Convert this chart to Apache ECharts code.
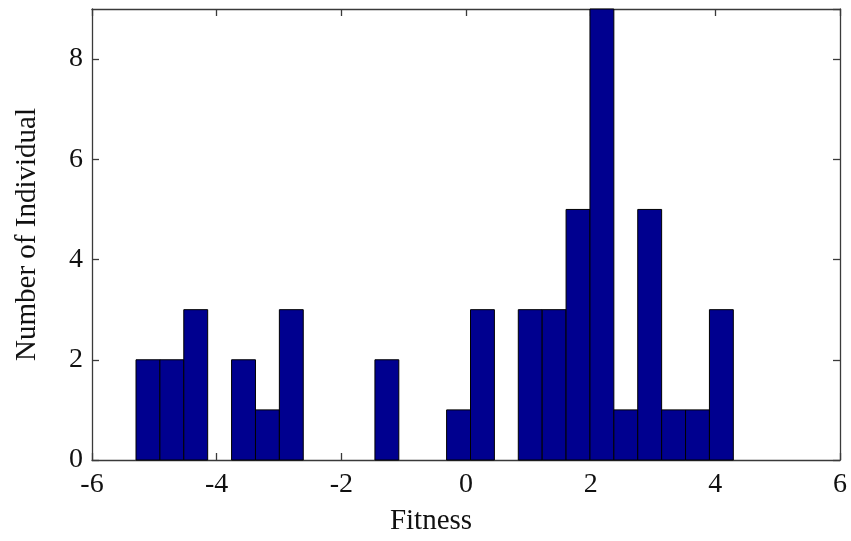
<!DOCTYPE html>
<html>
<head>
<meta charset="utf-8">
<script src="https://cdn.jsdelivr.net/npm/echarts@6/dist/echarts.min.js"></script>
<style>
  html, body { margin: 0; padding: 0; background: #fff; }
  #chart { width: 851px; height: 541px; }
</style>
</head>
<body>
<div id="chart"></div>
<script>
// histogram of fitness values, 25 bins
var binStart = -5.294;
var binWidth = 0.3833;
var counts = [2, 2, 3, 0, 2, 1, 3, 0, 0, 0, 2, 0, 0, 1, 3, 0, 3, 3, 5, 9, 1, 5, 1, 1, 3];
var xTicks = [-6, 6, 2];
var yTicks = [0, 9, 2];

var bins = counts.map(function (c, i) {
  return [binStart + i * binWidth, binStart + (i + 1) * binWidth, c];
});

var font = 'Liberation Serif';
var axisColor = '#3a3a3a';

var myChart = echarts.init(document.getElementById('chart'));

function axisBase(show) {
  return {
    axisLine: { show: true, onZero: false, lineStyle: { color: axisColor, width: 1.3 } },
    axisTick: { show: true, inside: true, length: 7, lineStyle: { color: axisColor, width: 1.3 } },
    splitLine: { show: false },
    axisLabel: { show: show, color: '#111', fontFamily: font, fontSize: 28 }
  };
}

var option = {
  animation: false,
  backgroundColor: '#fff',
  grid: { left: 92, right: 11, top: 9, bottom: 79 },
  xAxis: [
    Object.assign(axisBase(true), {
      type: 'value', min: xTicks[0], max: xTicks[1], interval: xTicks[2],
      position: 'bottom',
      name: 'Fitness', nameLocation: 'middle', nameGap: 47,
      nameTextStyle: { fontFamily: font, fontSize: 29, color: '#111', padding: [0, 70, 0, 0] }
    }),
    Object.assign(axisBase(false), {
      type: 'value', min: xTicks[0], max: xTicks[1], interval: xTicks[2],
      position: 'top'
    })
  ],
  yAxis: [
    Object.assign(axisBase(true), {
      type: 'value', min: yTicks[0], max: yTicks[1], interval: yTicks[2],
      position: 'left',
      name: 'Number of Individual', nameLocation: 'middle', nameGap: 50,
      nameTextStyle: { fontFamily: font, fontSize: 29, color: '#111' }
    }),
    Object.assign(axisBase(false), {
      type: 'value', min: yTicks[0], max: yTicks[1], interval: yTicks[2],
      position: 'right'
    })
  ],
  series: [{
    type: 'custom',
    data: bins,
    encode: { x: [0, 1], y: 2 },
    renderItem: function (params, api) {
      var c = api.value(2);
      if (!c) return null;
      var p0 = api.coord([api.value(0), c]);
      var p1 = api.coord([api.value(1), 0]);
      return {
        type: 'rect',
        shape: { x: p0[0], y: p0[1], width: p1[0] - p0[0], height: p1[1] - p0[1] },
        style: { fill: '#00008f', stroke: '#000', lineWidth: 1 }
      };
    }
  }]
};

option.yAxis[0].axisLabel.showMaxLabel = false;
option.yAxis[0].axisLabel.margin = 9;
option.xAxis[0].axisLabel.margin = 11;

myChart.setOption(option);
</script>
</body>
</html>
